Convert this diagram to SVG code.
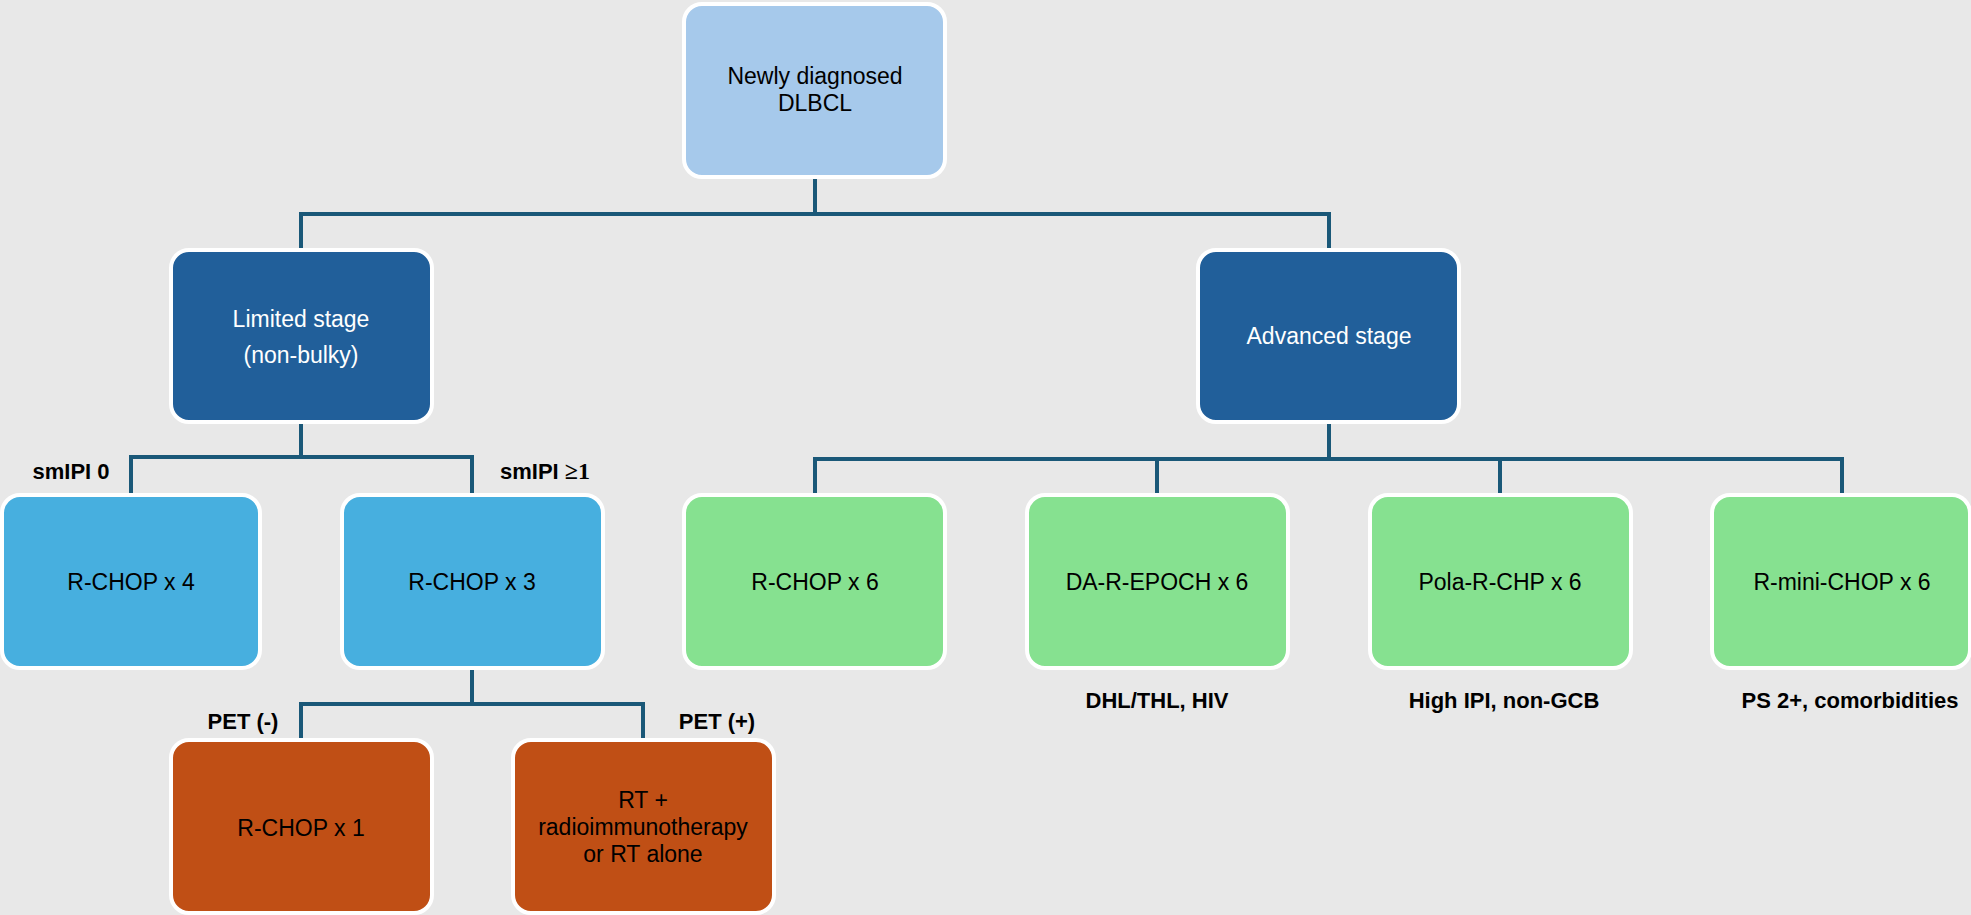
<svg xmlns="http://www.w3.org/2000/svg" width="1971" height="915" viewBox="0 0 1971 915">
<style>
.box{stroke:#ffffff;stroke-width:4}
.t{font-family:"Liberation Sans",Arial,sans-serif;font-size:23px;fill:#000000;text-anchor:middle}
.w{fill:#ffffff}
.lbl{font-family:"Liberation Sans",Arial,sans-serif;font-size:22px;font-weight:bold;fill:#000000;text-anchor:middle}
.c{fill:none;stroke:#1a5878;stroke-width:4}
</style>
<rect x="0" y="0" width="1971" height="915" fill="#e8e8e8"/>
<g id="connectors">
<path class="c" d="M815 177 V214 M301 214 H1329 M301 212 V250 M1329 212 V250"/>
<path class="c" d="M301 422 V457 M131 457 H472 M131 455 V495 M472 455 V495"/>
<path class="c" d="M1329 422 V459 M815 459 H1842 M815 457 V495 M1157 457 V495 M1500 457 V495 M1842 457 V495"/>
<path class="c" d="M472 668 V704 M301 704 H643 M301 702 V740 M643 702 V740"/>
</g>
<g id="n-top"><rect class="box" x="684" y="4" width="261" height="173" rx="18" fill="#a6c9eb"/><text class="t" x="815" y="84">Newly diagnosed</text><text class="t" x="815" y="111">DLBCL</text></g>
<g id="n-limited"><rect class="box" x="171" y="250" width="261" height="172" rx="18" fill="#215f9a"/><text class="t w" x="301" y="327">Limited stage</text><text class="t w" x="301" y="363">(non-bulky)</text></g>
<g id="n-advanced"><rect class="box" x="1198" y="250" width="261" height="172" rx="18" fill="#215f9a"/><text class="t w" x="1329" y="344">Advanced stage</text></g>
<g id="n-rchop4"><rect class="box" x="2" y="495" width="258" height="173" rx="18" fill="#47afdf"/><text class="t" x="131" y="590">R-CHOP x 4</text></g>
<g id="n-rchop3"><rect class="box" x="342" y="495" width="261" height="173" rx="18" fill="#47afdf"/><text class="t" x="472" y="590">R-CHOP x 3</text></g>
<g id="n-rchop6"><rect class="box" x="684" y="495" width="261" height="173" rx="18" fill="#86e190"/><text class="t" x="815" y="590">R-CHOP x 6</text></g>
<g id="n-daepoch"><rect class="box" x="1027" y="495" width="261" height="173" rx="18" fill="#86e190"/><text class="t" x="1157" y="590">DA-R-EPOCH x 6</text></g>
<g id="n-pola"><rect class="box" x="1370" y="495" width="261" height="173" rx="18" fill="#86e190"/><text class="t" x="1500" y="590">Pola-R-CHP x 6</text></g>
<g id="n-mini"><rect class="box" x="1712" y="495" width="258" height="173" rx="18" fill="#86e190"/><text class="t" x="1842" y="590">R-mini-CHOP x 6</text></g>
<g id="n-rchop1"><rect class="box" x="171" y="740" width="261" height="173" rx="18" fill="#c04f15"/><text class="t" x="301" y="836">R-CHOP x 1</text></g>
<g id="n-rt"><rect class="box" x="513" y="740" width="261" height="173" rx="18" fill="#c04f15"/><text class="t" x="643" y="808">RT +</text><text class="t" x="643" y="835">radioimmunotherapy</text><text class="t" x="643" y="862">or RT alone</text></g>
<g id="labels">
<text class="lbl" x="71" y="479">smIPI 0</text>
<text class="lbl" x="545" y="479">smIPI <tspan font-family="'Liberation Serif',serif" font-size="24px">≥1</tspan></text>
<text class="lbl" x="243" y="729">PET (-)</text>
<text class="lbl" x="717" y="729">PET (+)</text>
<text class="lbl" x="1157" y="708">DHL/THL, HIV</text>
<text class="lbl" x="1504" y="708">High IPI, non-GCB</text>
<text class="lbl" x="1850" y="708">PS 2+, comorbidities</text>
</g>
</svg>
